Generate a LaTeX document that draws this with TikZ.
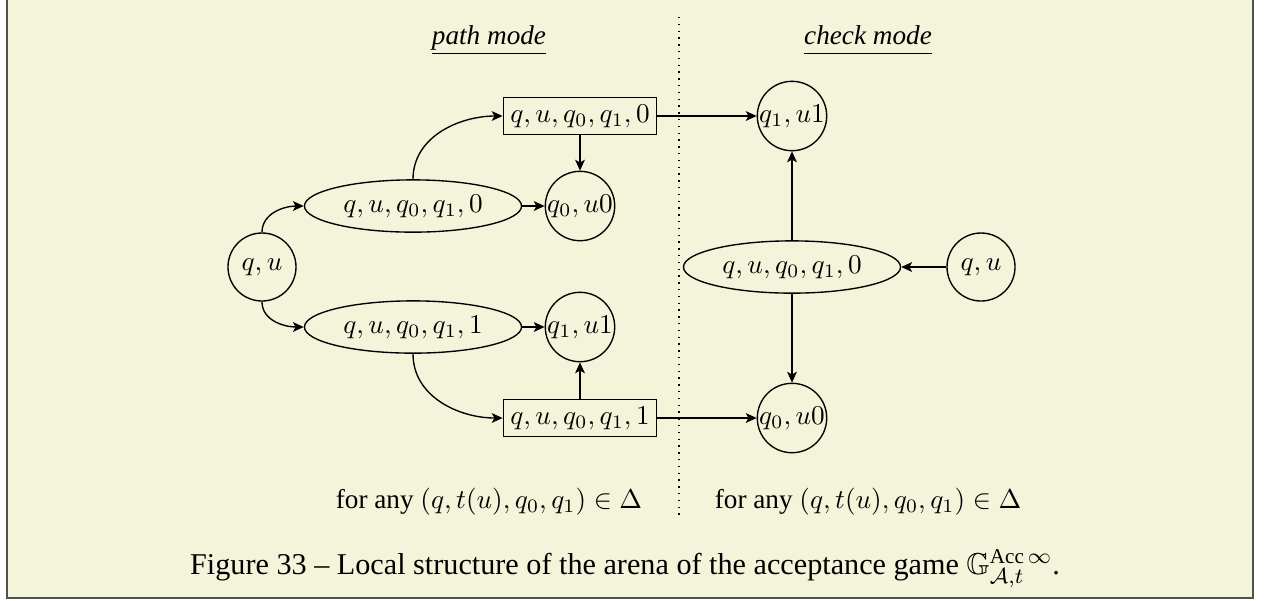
\documentclass[tikz,border=0pt]{standalone}
\usepackage{amsmath,amssymb}
\usepackage{fontspec}
\setmainfont{Liberation Serif}
\usetikzlibrary{shapes.geometric, arrows.meta}
\definecolor{paper}{RGB}{244,244,219}
\definecolor{framegray}{RGB}{82,82,74}

\begin{document}
\begin{tikzpicture}[x=0.3676pt, y=-0.3676pt,
    state/.style={circle, draw, inner sep=0pt, minimum size=25pt},
    pick/.style={ellipse, draw, inner sep=2.6pt},
    move/.style={rectangle, draw, inner sep=2.6pt},
    edge/.style={-{Stealth[length=4pt,width=3.6pt,inset=1pt]}, line width=0.5pt},
    modetitle/.style={anchor=base, font=\itshape},
    every node/.append style={line width=0.5pt}]
  \useasboundingbox (0,0) rectangle (1266,600);

  % cadre de la figure
  \fill[paper] (7,0) rectangle (1253,598);
  \draw[framegray, line width=0.8pt] (7,0) -- (7,598) -- (1253,598) -- (1253,0);

  % titres des deux modes
  \node[modetitle] (pathtitle) at (489,44) {\underline{\vphantom{p}path mode}};
  \node[modetitle] (checktitle) at (868,44) {\underline{\vphantom{p}check mode}};

  % separation
  \draw[dotted, line width=0.5pt] (679,17) -- (679,517);

  % path mode
  \node[state] (qu) at (262,267) {$q,u$};
  \node[pick] (ell0) at (413,206) {$q,u,q_0,q_1,0$};
  \node[pick] (ell1) at (413,327) {$q,u,q_0,q_1,1$};
  \node[state] (s0) at (580,206) {$q_0,u0$};
  \node[state] (s1) at (580,327) {$q_1,u1$};
  \node[move] (box0) at (580,116) {$q,u,q_0,q_1,0$};
  \node[move] (box1) at (580,418) {$q,u,q_0,q_1,1$};

  \draw[edge] (qu.north) to[out=90, in=180] (ell0.west);
  \draw[edge] (qu.south) to[out=-90, in=180] (ell1.west);
  \draw[edge] (ell0.north) to[out=90, in=180] (box0.west);
  \draw[edge] (ell1.south) to[out=-90, in=180] (box1.west);
  \draw[edge] (ell0) -- (s0);
  \draw[edge] (ell1) -- (s1);
  \draw[edge] (box0) -- (s0);
  \draw[edge] (box1) -- (s1);

  % check mode
  \node[state] (cqu) at (981,267) {$q,u$};
  \node[pick] (cell) at (792,267) {$q,u,q_0,q_1,0$};
  \node[state] (cs1) at (792,116) {$q_1,u1$};
  \node[state] (cs0) at (792,418) {$q_0,u0$};

  \draw[edge] (cqu) -- (cell);
  \draw[edge] (cell) -- (cs1);
  \draw[edge] (cell) -- (cs0);
  \draw[edge] (box0) -- (cs1);
  \draw[edge] (box1) -- (cs0);

  % conditions
  \node (condpath) at (489,502) {for any $(q,t(u),q_0,q_1)\in\Delta$};
  \node (condcheck) at (868,502) {for any $(q,t(u),q_0,q_1)\in\Delta$};

  % legende
  \node[font=\fontsize{11.1}{13}\selectfont] (caption) at (625,569)
    {Figure 33 -- Local structure of the arena of the acceptance game
     $\mathbb{G}^{\mathrm{Acc}\,\infty}_{\mathcal{A},t}$.};
\end{tikzpicture}
\end{document}
